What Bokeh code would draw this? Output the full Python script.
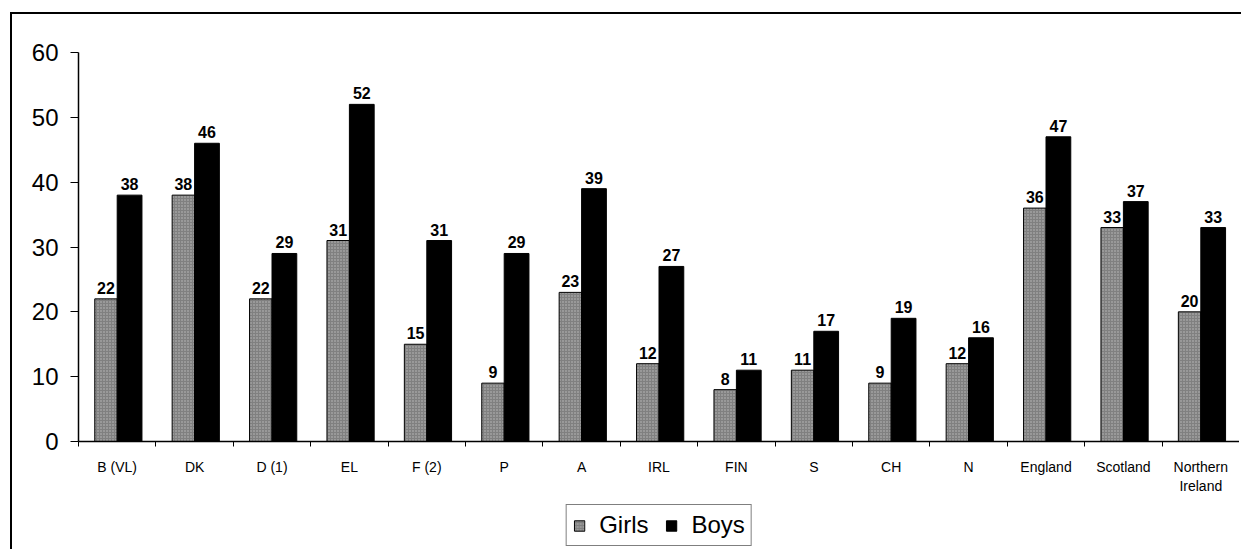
from bokeh.plotting import figure
from bokeh.layouts import column
from bokeh.models import (ColumnDataSource, Range1d, FixedTicker, LabelSet, Legend,
                          LegendItem, InlineStyleSheet)
from bokeh.core.properties import value
from bokeh.transform import dodge
from bokeh.embed import file_html
from bokeh.resources import INLINE

countries = ["B (VL)", "DK", "D (1)", "EL", "F (2)", "P", "A", "IRL", "FIN", "S",
             "CH", "N", "England", "Scotland", "Northern\nIreland"]
girls = [22, 38, 22, 31, 15, 9, 23, 12, 8, 11, 9, 12, 36, 33, 20]
boys = [38, 46, 29, 52, 31, 29, 39, 27, 11, 17, 19, 16, 47, 37, 33]
y_ticks = [0, 10, 20, 30, 40, 50, 60]

FONT = "Liberation Sans"
n = len(countries)
centers = [i + 0.5 for i in range(n)]
src = ColumnDataSource(dict(x=centers, girls=girls, boys=boys,
                            gl=[str(v) for v in girls], bl=[str(v) for v in boys]))

GIRL_STYLE = dict(fill_color="#808080", line_color="black", line_width=1,
                  hatch_pattern="dot", hatch_color="white", hatch_alpha=0.5, hatch_scale=3)
BOY_STYLE = dict(fill_color="black", line_color="black", line_width=1)

p = figure(width=1239, height=503, x_range=Range1d(0, n), y_range=Range1d(0, 60),
           output_backend="svg", toolbar_location=None,
           min_border_left=78, min_border_right=0, min_border_top=52, min_border_bottom=62)
p.background_fill_color = None
p.border_fill_color = None
p.outline_line_color = None
p.grid.visible = False

p.vbar(x=dodge("x", -0.145), top="girls", width=0.29, source=src, **GIRL_STYLE)
p.vbar(x=dodge("x", 0.16), top="boys", width=0.32, source=src, **BOY_STYLE)

for xo, col, fld in [(-0.145, "girls", "gl"), (0.16, "boys", "bl")]:
    p.add_layout(LabelSet(x=dodge("x", xo), y=col, text=fld, source=src,
                          text_align="center", text_baseline="bottom", y_offset=5,
                          text_font=value(FONT), text_font_size="16px",
                          text_font_style="bold", text_color="black"))

# x axis: labels at centres, ticks at category boundaries
p.xaxis.ticker = FixedTicker(ticks=centers, minor_ticks=list(range(n + 1)))
p.xaxis.major_label_overrides = {c: name for c, name in zip(centers, countries)}
p.xaxis.major_tick_out = 0
p.xaxis.major_tick_in = 0
p.xaxis.minor_tick_out = 5
p.xaxis.minor_tick_in = 0
p.xaxis.minor_tick_line_color = "black"
p.xaxis.major_label_text_font = FONT
p.xaxis.major_label_text_font_size = "14px"
p.xaxis.major_label_text_color = "black"
p.xaxis.major_label_standoff = 12
p.xaxis.axis_line_width = 1.5
p.xaxis.axis_line_color = "black"

p.yaxis.ticker = FixedTicker(ticks=y_ticks)
p.yaxis.major_tick_out = 8
p.yaxis.major_tick_in = 0
p.yaxis.minor_tick_out = 0
p.yaxis.minor_tick_in = 0
p.yaxis.major_label_text_font = FONT
p.yaxis.major_label_text_font_size = "24px"
p.yaxis.major_label_text_color = "black"
p.yaxis.major_label_standoff = 12
p.yaxis.axis_line_width = 1.5
p.yaxis.axis_line_color = "black"

# legend strip below the chart (same data, drawn off-range so only the legend shows)
q = figure(width=1239, height=44, x_range=p.x_range, y_range=Range1d(500, 501),
           output_backend="svg", toolbar_location=None, x_axis_type=None, y_axis_type=None,
           min_border_left=78, min_border_right=0, min_border_top=0, min_border_bottom=0)
q.background_fill_color = None
q.border_fill_color = None
q.outline_line_color = None
q.grid.visible = False
lg = q.vbar(x=dodge("x", -0.145), top="girls", width=0.29, source=src, **GIRL_STYLE)
lb = q.vbar(x=dodge("x", 0.16), top="boys", width=0.32, source=src, **BOY_STYLE)
legend = Legend(items=[LegendItem(label="Girls", renderers=[lg]),
                       LegendItem(label="Boys", renderers=[lb])],
                location="center", orientation="horizontal",
                label_text_font=FONT, label_text_font_size="24px", label_text_color="black",
                glyph_width=13, glyph_height=13, label_standoff=14, spacing=16,
                padding=6, margin=0, border_line_color="black", border_line_width=1.5,
                background_fill_color="white", background_fill_alpha=1)
q.add_layout(legend, "center")

frame_css = InlineStyleSheet(css="""
:host::after {
  content: '';
  position: absolute;
  left: 10px; top: 12px; right: -20px; bottom: -20px;
  border-top: 2px solid black;
  border-left: 2px solid black;
  pointer-events: none;
}
""")
layout = column(p, q, spacing=0)
layout.stylesheets = [frame_css]

open("out.html", "w").write(file_html(layout, INLINE))
